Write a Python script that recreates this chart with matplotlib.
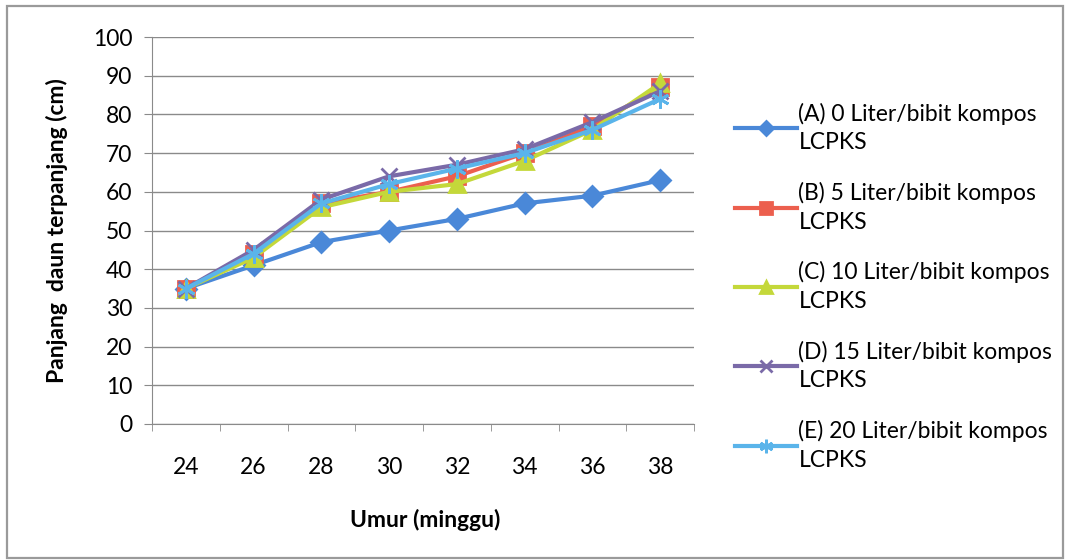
import matplotlib
matplotlib.use("Agg")
import matplotlib.pyplot as plt
from matplotlib.patches import Rectangle

weeks = ["24", "26", "28", "30", "32", "34", "36", "38"]
series_a = [35, 41, 47, 50, 53, 57, 59, 63]
series_b = [35, 44, 57, 60, 64, 70, 77, 87]
series_c = [35, 43, 56, 60, 62, 68, 76, 88]
series_d = [35, 45, 58, 64, 67, 71, 78, 86]
series_e = [35, 44, 57, 62, 66, 70, 76, 84]
labels = ["(A) 0 Liter/bibit kompos\nLCPKS",
          "(B) 5 Liter/bibit kompos\nLCPKS",
          "(C) 10 Liter/bibit kompos\nLCPKS",
          "(D) 15 Liter/bibit kompos\nLCPKS",
          "(E) 20 Liter/bibit kompos\nLCPKS"]

plt.rcParams['font.family'] = ['Lato', 'DejaVu Sans']
FS = 16.5

W, H = 1073, 560
fig = plt.figure(figsize=(W / 100, H / 100), dpi=100)
ax = fig.add_axes([152 / W, 1 - 424 / H, (694 - 152) / W, (424 - 37) / H])

fig.patches.append(Rectangle((7 / W, 1 - 558 / H), 1056 / W, 552 / H,
                             transform=fig.transFigure, fill=False,
                             edgecolor="#9a9a9a", linewidth=1.6))

x = list(range(len(weeks)))
styles = [
    (series_a, "#4a88d8", "D", 10),
    (series_b, "#ec5f4e", "s", 11),
    (series_c, "#c4d83a", "^", 11),
    (series_d, "#7a6aa8", "x", 12),
    (series_e, "#5ab4ea", (6, 2, 0), 13),
]
for (vals, col, mk, ms), lab in zip(styles, labels):
    ax.plot(x, vals, color=col, linewidth=3.0, marker=mk, markersize=ms,
            markerfacecolor=col, markeredgecolor=col, markeredgewidth=2.0,
            label=lab)

ax.set_xlim(-0.5, 7.5)
ax.set_ylim(0, 100)
ax.set_yticks(range(0, 101, 10))
ax.set_xticks(x)
ax.set_xticklabels(weeks)
ax.set_xticks([i - 0.5 for i in range(len(weeks) + 1)], minor=True)
ax.tick_params(axis='x', which='major', length=0, pad=24, labelsize=FS)
ax.tick_params(axis='x', which='minor', length=5, color="#8a8a8a", direction='out')
ax.tick_params(axis='y', length=6, color="#8a8a8a", labelsize=FS, pad=8)
ax.grid(axis='y', color="#8a8a8a", linewidth=1.0)
ax.set_axisbelow(True)
for s in ["top", "right"]:
    ax.spines[s].set_visible(False)
for s in ["left", "bottom"]:
    ax.spines[s].set_color("#8a8a8a")

ax.set_ylabel("Panjang  daun terpanjang (cm)", fontsize=FS, fontweight='bold')
ax.yaxis.set_label_coords((68 - 152) / 542, 0.5)
ax.set_xlabel("Umur (minggu)", fontsize=FS, fontweight='bold')
ax.xaxis.set_label_coords((425 - 152) / 542, (424 - 509) / 387)

leg = ax.legend(loc='upper left', bbox_to_anchor=(724 / W, 1 - 91 / H),
                bbox_transform=fig.transFigure, frameon=False, fontsize=FS,
                handlelength=2.7, handletextpad=0.05, labelspacing=1.25,
                borderpad=0, markerscale=0.75)
for t in leg.get_texts():
    t.set_linespacing(1.45)

fig.savefig("out.png", dpi=100)
